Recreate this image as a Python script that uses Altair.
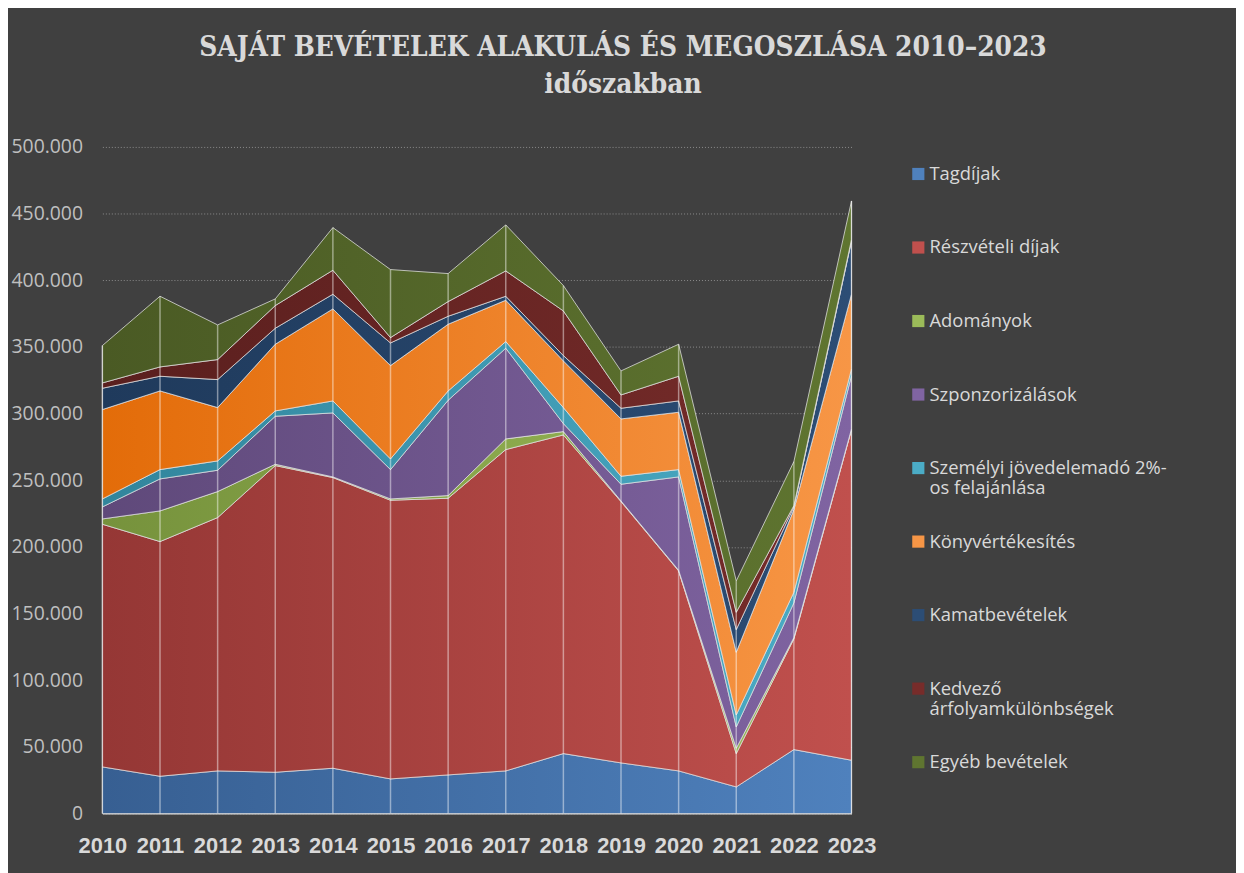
import altair as alt
import pandas as pd

years = list(range(2010, 2024))
series_names = [
    "Tagdíjak",
    "Részvételi díjak",
    "Adományok",
    "Szponzorizálások",
    "Személyi jövedelemadó 2%-os felajánlása",
    "Könyvértékesítés",
    "Kamatbevételek",
    "Kedvező árfolyamkülönbségek",
    "Egyéb bevételek",
]
tagdijak = [35000, 28000, 32000, 31000, 34000, 26000, 29000, 32000, 45000, 38000, 32000, 20000, 48000, 40000]
reszveteli = [182000, 176000, 190000, 230000, 218000, 209000, 207500, 241000, 239000, 196000, 150000, 25000, 83000, 248000]
adomanyok = [4000, 23000, 19500, 1000, 500, 1000, 2000, 8000, 2500, 500, 500, 4000, 1000, 500]
szponzor = [9000, 24000, 16000, 36000, 48000, 22000, 71500, 68000, 6000, 12500, 70000, 16000, 26000, 40000]
szja = [6000, 7000, 7000, 4000, 9000, 8000, 7000, 5000, 12000, 6000, 5500, 9000, 8000, 5000]
konyv = [67000, 59000, 40000, 50000, 69000, 70000, 50000, 31000, 35000, 43000, 43000, 47000, 62000, 56000]
kamat = [16000, 11000, 21000, 12000, 11000, 17000, 6000, 3000, 4000, 8000, 8500, 17000, 2000, 40000]
kedvezo = [4000, 7000, 15000, 17000, 18000, 4000, 11000, 19000, 33500, 10000, 18500, 13000, 1000, 1000]
egyeb = [28000, 53000, 26000, 5000, 32000, 51000, 21000, 34500, 19000, 18000, 24000, 23500, 33000, 29000]

all_values = [tagdijak, reszveteli, adomanyok, szponzor, szja, konyv, kamat, kedvezo, egyeb]

left_colors = ["#375f92", "#953735", "#76923c", "#5f497a", "#31859c", "#e36c09", "#1f3a5c", "#5a1f1e", "#4a5a24"]
right_colors = ["#4f81bd", "#c0504d", "#9bbb59", "#8064a2", "#4bacc6", "#f79646", "#2c4d75", "#772c2a", "#5f7530"]

rows = []
for i, (name, vals) in enumerate(zip(series_names, all_values)):
    for y, v in zip(years, vals):
        rows.append({"year": y, "series": name, "value": v, "order": i})
df = pd.DataFrame(rows)

base = alt.Chart(df).transform_stack(
    stack="value", as_=["y0", "y1"], groupby=["year"], sort=[alt.SortField("order", order="ascending")]
)

x_enc = alt.X(
    "year:Q",
    scale=alt.Scale(domain=[2010, 2023], nice=False, zero=False),
    axis=alt.Axis(
        values=years, format="d", title=None, labelOverlap=False, labelFlush=False, grid=False, ticks=False,
        labelFont="Liberation Sans", labelFontWeight="bold", labelFontSize=22,
        labelColor="#d9d9d9", labelPadding=22, domainColor="#a6a6a6", domainWidth=1.5,
    ),
)
y_enc = alt.Y(
    "y1:Q",
    scale=alt.Scale(domain=[0, 500000], nice=False),
    axis=alt.Axis(
        values=list(range(0, 500001, 50000)),
        labelExpr="replace(format(datum.value, ','), ',', '.')",
        title=None, ticks=False, domain=False, grid=True,
        gridColor="#8c8c8c", gridDash=[1, 2], gridWidth=1,
        labelFont="Open Sans", labelFontSize=19.5, labelColor="#bfbfbf", labelPadding=20,
    ),
)

layers = []
for i, name in enumerate(series_names):
    grad = alt.LinearGradient(
        gradient="linear", x1=0, y1=0, x2=1, y2=0,
        stops=[alt.GradientStop(color=left_colors[i], offset=0),
               alt.GradientStop(color=right_colors[i], offset=1)],
    )
    layer = base.transform_filter(alt.datum.series == name).mark_area(
        color=grad, stroke="#e6e6e6", strokeWidth=1, strokeOpacity=0.75, strokeJoin="miter"
    ).encode(x=x_enc, y=y_enc, y2="y0:Q")
    layers.append(layer)

legend_layer = base.mark_square(opacity=0, size=1).encode(
    x=x_enc,
    y=y_enc,
    color=alt.Color(
        "series:N",
        sort=series_names,
        scale=alt.Scale(domain=series_names, range=right_colors),
        legend=alt.Legend(
            title=None, orient="none", legendX=812, legendY=18, direction="vertical",
            symbolType="square", symbolSize=150, symbolOpacity=1, symbolStrokeWidth=0,
            labelFont="Open Sans", labelFontSize=18.5, labelColor="#d9d9d9",
            labelLimit=400, rowPadding=34, labelOffset=2,
            labelExpr="datum.label == 'Személyi jövedelemadó 2%-os felajánlása' ? ['Személyi jövedelemadó 2%-', 'os felajánlása'] : datum.label == 'Kedvező árfolyamkülönbségek' ? ['Kedvező', 'árfolyamkülönbségek'] : [datum.label, ' ']",
        ),
    ),
)

drop_lines = alt.Chart(df).transform_aggregate(
    total="sum(value)", groupby=["year"]
).mark_rule(color="#ffffff", opacity=0.45, strokeWidth=1.5).encode(
    x=alt.X("year:Q"), y=alt.Y("total:Q"), y2=alt.datum(0)
)

chart = alt.layer(*layers, drop_lines, legend_layer).properties(
    width=754,
    height=671,
    background="#404040",
    padding={"left": 95, "top": 137, "right": 387, "bottom": 57},
    autosize=alt.AutoSizeParams(type="none"),
    title=alt.TitleParams(
        text=["SAJÁT BEVÉTELEK ALAKULÁS ÉS MEGOSZLÁSA 2010–2023", "időszakban"],
        font="DejaVu Serif Condensed", fontWeight="bold", fontSize=28, color="#d9d9d9",
        lineHeight=38, anchor="middle", dx=147, offset=38,
    ),
).configure_view(stroke=None).configure_axis(labelFontWeight="normal")

chart.save("out.html", embed_options={"renderer": "svg", "actions": False})
